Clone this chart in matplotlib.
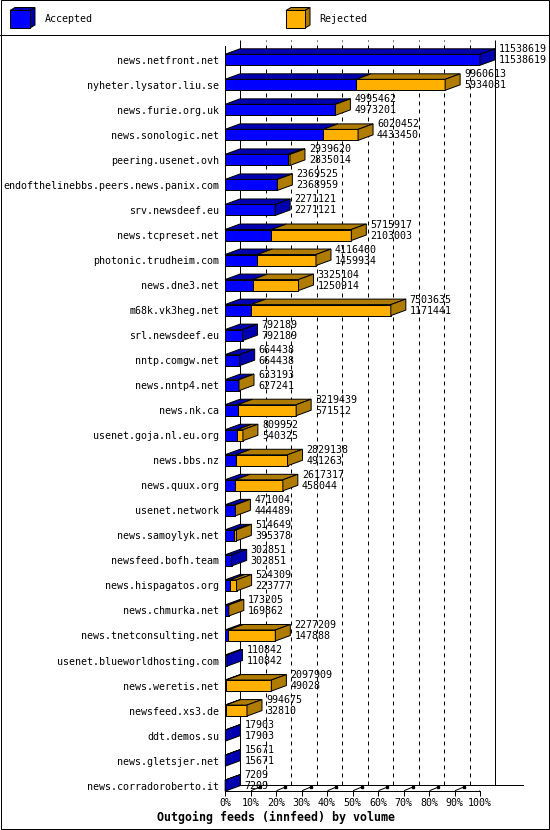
import matplotlib
matplotlib.use("Agg")
import matplotlib.pyplot as plt
import matplotlib.transforms as mtransforms
from matplotlib.patches import Polygon, Rectangle
from matplotlib.lines import Line2D
import numpy as np

hosts = ["news.netfront.net", "nyheter.lysator.liu.se", "news.furie.org.uk",
         "news.sonologic.net", "peering.usenet.ovh",
         "endofthelinebbs.peers.news.panix.com", "srv.newsdeef.eu",
         "news.tcpreset.net", "photonic.trudheim.com", "news.dne3.net",
         "m68k.vk3heg.net", "srl.newsdeef.eu", "nntp.comgw.net",
         "news.nntp4.net", "news.nk.ca", "usenet.goja.nl.eu.org",
         "news.bbs.nz", "news.quux.org", "usenet.network",
         "news.samoylyk.net", "newsfeed.bofh.team", "news.hispagatos.org",
         "news.chmurka.net", "news.tnetconsulting.net",
         "usenet.blueworldhosting.com", "news.weretis.net",
         "newsfeed.xs3.de", "ddt.demos.su", "news.gletsjer.net",
         "news.corradoroberto.it"]
total = [11538619, 9960613, 4995462, 6020452, 2939620, 2369525, 2271121,
         5715917, 4116460, 3325104, 7503635, 792189, 664438, 633193,
         3219439, 809952, 2829138, 2617317, 471004, 514649, 302851,
         524309, 173205, 2277209, 110842, 2097909, 994675, 17903, 15671,
         7209]
accepted = [11538619, 5934081, 4973201, 4433450, 2835014, 2368959, 2271121,
            2103003, 1459934, 1250914, 1171441, 792189, 664438, 627241,
            571512, 540325, 491263, 458044, 444489, 395378, 302851,
            223777, 169862, 147888, 110842, 49028, 32810, 17903, 15671,
            7209]
ticks = list(range(0, 101, 10))

BLUE, BLUE_D = "#0000FF", "#0000B0"
ORANGE, ORANGE_D = "#FFB000", "#B07C00"
LW = 0.72
FS = 7.2
plt.rcParams["font.family"] = ["DejaVu Sans Mono"]

W, H = 550, 830
fig = plt.figure(figsize=(W / 100, H / 100), dpi=100)

# frame, legend and title in pixel space
bg = fig.add_axes([0, 0, 1, 1])
bg.set_xlim(0, W)
bg.set_ylim(H, 0)
bg.axis("off")
bg.add_patch(Rectangle((0.5, 0.5), W - 1.5, H - 1.5, fill=False, ec="k", lw=LW))
bg.plot([0, W], [35.5, 35.5], color="k", lw=LW)


def box3d(x, y, w, h, c, cd, dx=5, dy=-3):
    bg.add_patch(Polygon([(x, y), (x + w, y), (x + w + dx, y + dy), (x + dx, y + dy)],
                         fc=cd, ec="k", lw=LW))
    bg.add_patch(Polygon([(x + w, y), (x + w + dx, y + dy), (x + w + dx, y + h + dy), (x + w, y + h)],
                         fc=cd, ec="k", lw=LW))
    bg.add_patch(Rectangle((x, y), w, h, fc=c, ec="k", lw=LW))


box3d(10, 10.5, 20, 17.5, BLUE, BLUE_D)
box3d(286, 10.5, 19, 17.5, ORANGE, ORANGE_D)
bg.text(45, 19.5, "Accepted", fontsize=FS, va="center")
bg.text(319, 19.5, "Rejected", fontsize=FS, va="center")
bg.text(157, 817, "Outgoing feeds (innfeed) by volume", fontsize=8.4,
        fontweight="bold", va="center")

# main chart: front plane
x0, x1 = 225, 480
ytop, ybot = 45.5, 790.5
c0, step = 59.8, 25.03
ax = fig.add_axes([x0 / W, 1 - ybot / H, (x1 - x0) / W, (ybot - ytop) / H])
ax.patch.set_visible(False)
ax.set_xlim(0, 100)
ax.set_ylim((ybot - c0) / step, (ytop - c0) / step)
for s in ("top", "right"):
    ax.spines[s].set_visible(False)
for s in ("left", "bottom"):
    ax.spines[s].set_linewidth(LW)
ax.set_xticks(ticks)
ax.set_xticklabels([f"{t}%" for t in ticks])
ax.set_yticks(range(len(hosts)))
ax.set_yticklabels(hosts)
ax.tick_params(axis="x", direction="out", length=5 * LW, width=LW, pad=2, labelsize=FS)
ax.tick_params(axis="y", length=0, pad=4, labelsize=FS)

DX, DY = 15, 5.5
back = ax.get_xaxis_transform() + mtransforms.ScaledTranslation(DX / 100, DY / 100, fig.dpi_scale_trans)
ident = mtransforms.IdentityTransform()

# back plane grid
ax.vlines([0, 100], 0, 1, transform=back, color="k", lw=LW, zorder=1, clip_on=False)
ax.vlines(ticks[1:-1], 0, 1, transform=back, color="k", lw=LW,
          linestyles=(0, (4, 4)), zorder=1, clip_on=False)
ax.plot([0, 111], [0, 0], transform=back, color="k", lw=LW, clip_on=False)

# floor edges and 3D tick marks
xa = ax.get_xaxis_transform()
p = xa.transform((100, 0))
ax.add_line(Line2D([p[0], p[0] + DX], [p[1], p[1] + DY], transform=ident, color="k", lw=LW))
p = xa.transform((0, 0))
ax.add_line(Line2D([p[0] - 16, p[0]], [p[1] - 5.9, p[1]], transform=ident, color="k", lw=LW))
for t in ticks[1:-1]:
    p = xa.transform((t, 0))
    ax.add_line(Line2D([p[0] + 1, p[0] + 0.55 * DX], [p[1], p[1] + 0.55 * DY],
                       transform=ident, color="k", lw=LW))
    ax.add_line(Line2D([p[0] + 0.6 * DX], [p[1] + 0.7 * DY], transform=ident,
                       marker="s", ms=2, color="k", lw=0))

vmax = max(total)
h = 11 / step


def face(pts, fc):
    ax.add_patch(Polygon(pts, closed=True, transform=ident, fc=fc, ec="k",
                         lw=LW, zorder=3, clip_on=False))


for i, (tot, acc) in enumerate(zip(total, accepted)):
    a = acc / vmax * 100
    t = tot / vmax * 100
    ax.barh(i, a, height=h, color=BLUE, edgecolor="k", lw=LW, zorder=3)
    segs = [(0, a, BLUE_D)]
    if t > a:
        ax.barh(i, t - a, left=a, height=h, color=ORANGE, edgecolor="k", lw=LW, zorder=3)
        segs.append((a, t, ORANGE_D))
    d = np.array([DX, DY])
    for s0, s1, cd in segs:
        p1 = ax.transData.transform((s0, i - h / 2))
        p2 = ax.transData.transform((s1, i - h / 2))
        face([p1, p2, p2 + d, p1 + d], cd)
    q1 = ax.transData.transform((t, i - h / 2))
    q2 = ax.transData.transform((t, i + h / 2))
    face([q1, q2, q2 + d, q1 + d], segs[-1][2])
    ax.annotate(str(tot), xy=(t, i), xytext=((DX + 4) * LW, 10.5 * LW),
                textcoords="offset points", ha="left", va="center", fontsize=FS)
    ax.annotate(str(acc), xy=(t, i), xytext=((DX + 4) * LW, -0.5 * LW),
                textcoords="offset points", ha="left", va="center", fontsize=FS)

fig.savefig("out.png", dpi=100)
